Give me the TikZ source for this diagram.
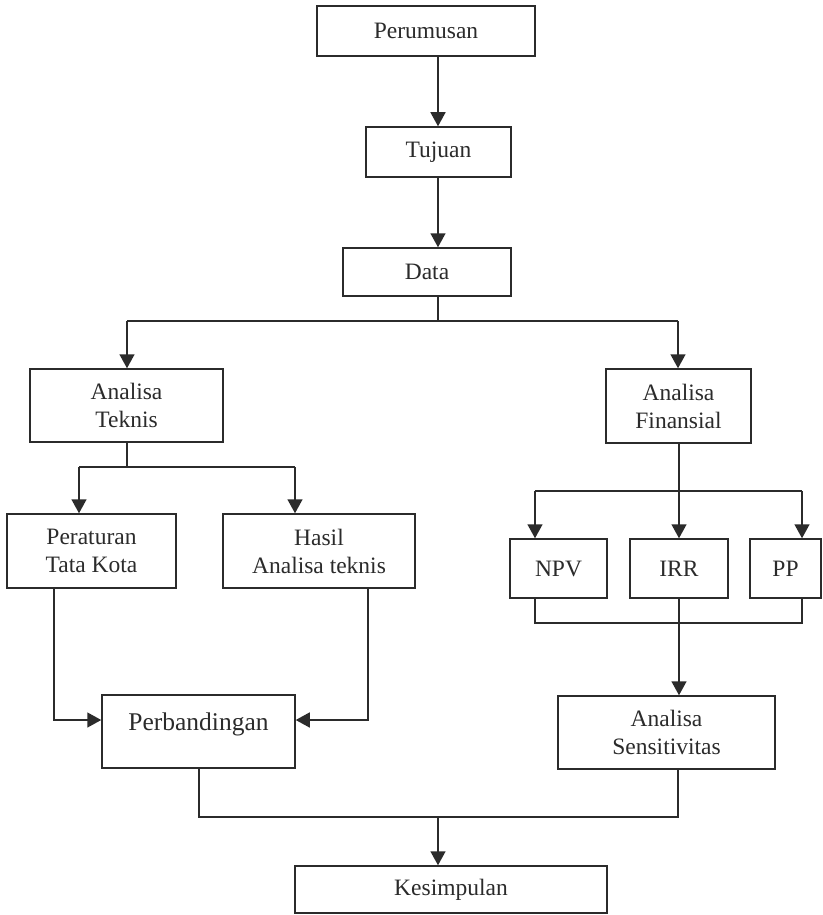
\documentclass[tikz,border=0pt]{standalone}
\usepackage{fontspec}
\setmainfont{Liberation Serif}
\usetikzlibrary{arrows.meta}
\definecolor{ink}{HTML}{2B2B2B}
\begin{document}
\begin{tikzpicture}[x=1pt,y=-1pt,
  box/.style={draw=ink,line width=1.5pt,fill=white,inner sep=0pt,align=center,
    font=\fontsize{23.5}{28}\selectfont,text=ink},
  conn/.style={draw=ink,line width=1.5pt},
  arr/.style={conn,-{Triangle[length=14pt,width=15pt]}}]
\useasboundingbox (0,0) rectangle (822,915);
\fill[white] (0,0) rectangle (822,915);
% boxes
\node[box,minimum width=218pt,minimum height=50pt] (per) at (426,31) {Perumusan};
\node[box,minimum width=145pt,minimum height=50pt] (tuj) at (438.5,152) {Tujuan};
\node[box,minimum width=168pt,minimum height=48pt] (dat) at (427,272) {Data};
\node[box,minimum width=193pt,minimum height=73pt] (at) at (126.5,405.5) {Analisa\\Teknis};
\node[box,minimum width=145pt,minimum height=74pt] (af) at (678.5,406) {Analisa\\Finansial};
\node[box,minimum width=169pt,minimum height=74pt] (ptk) at (91.5,551) {Peraturan\\Tata Kota};
\node[box,minimum width=192pt,minimum height=74pt] (hat) at (319,551) {Hasil\\Analisa teknis};
\node[box,minimum width=97pt,minimum height=59pt] (npv) at (558.5,568.5) {NPV};
\node[box,minimum width=98pt,minimum height=59pt] (irr) at (679,568.5) {IRR};
\node[box,minimum width=71pt,minimum height=59pt] (pp) at (785.5,568.5) {PP};
\node[box,text width=193pt,text height=35pt,text depth=38pt,font=\fontsize{25.5}{30}\selectfont] (perb) at (198.5,731.5) {Perbandingan};
\node[box,minimum width=217pt,minimum height=73pt] (sens) at (666.5,732.5) {Analisa\\Sensitivitas};
\node[box,minimum width=312pt,minimum height=47pt] (kes) at (451,889.5) {Kesimpulan};
% junction coordinates
\coordinate (j1) at (438,321);
\coordinate (d1) at (127,321);
\coordinate (d2) at (678,321);
\coordinate (a0) at (127,467);
\coordinate (a1) at (79,467);
\coordinate (a2) at (295,467);
\coordinate (b0) at (679,491);
\coordinate (b1) at (535,491);
\coordinate (b2) at (802,491);
\coordinate (c1) at (535,623);
\coordinate (c2) at (802,623);
\coordinate (c0) at (679,623);
\coordinate (p1) at (54,720);
\coordinate (p2) at (368,720);
\coordinate (k1) at (199,817);
\coordinate (k2) at (678,817);
\coordinate (k0) at (438,817);
% connectors
\draw[arr] (per.south -| j1) -- (tuj.north -| j1);
\draw[arr] (tuj.south -| j1) -- (dat.north -| j1);
\draw[conn] (dat.south -| j1) -- (j1);
\draw[conn] (d1) -- (d2);
\draw[arr] (d1) -- (at.north -| d1);
\draw[arr] (d2) -- (af.north -| d2);
\draw[conn] (at.south -| a0) -- (a0);
\draw[conn] (a1) -- (a2);
\draw[arr] (a1) -- (ptk.north -| a1);
\draw[arr] (a2) -- (hat.north -| a2);
\draw[conn] (af.south -| b0) -- (b0);
\draw[conn] (b1) -- (b2);
\draw[arr] (b1) -- (npv.north -| b1);
\draw[arr] (b0) -- (irr.north -| b0);
\draw[arr] (b2) -- (pp.north -| b2);
\draw[conn] (npv.south -| c1) -- (c1) -- (c2) -- (pp.south -| c2);
\draw[conn] (irr.south -| c0) -- (c0);
\draw[arr] (c0) -- (sens.north -| c0);
\draw[arr] (ptk.south -| p1) -- (p1) -- (perb.west |- p1);
\draw[arr] (hat.south -| p2) -- (p2) -- (perb.east |- p2);
\draw[conn] (perb.south -| k1) -- (k1) -- (k2) -- (sens.south -| k2);
\draw[arr] (k0) -- (kes.north -| k0);
\end{tikzpicture}
\end{document}
